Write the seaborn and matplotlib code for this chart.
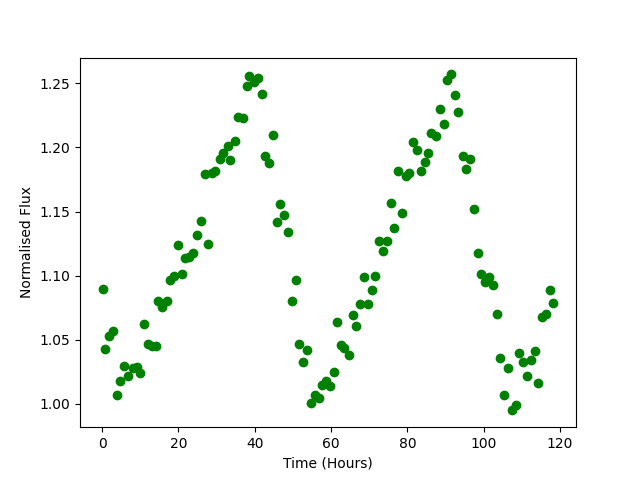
import matplotlib
matplotlib.use("Agg")
import matplotlib.pyplot as plt
import seaborn as sns
import pandas as pd

# time (hours) and normalised flux
time_hours = [
    0.1, 0.8, 1.8, 2.9, 4.0, 4.8, 5.8, 6.9, 8.1, 9.1, 9.9, 10.9, 11.9, 13.0, 14.1,
    14.7, 15.8, 16.9, 17.9, 18.9, 19.8, 20.8, 21.8, 22.8, 23.8, 24.8, 25.8, 26.9,
    27.8, 28.7, 29.7, 30.8, 31.8, 32.9, 33.6, 34.7, 35.7, 36.8, 37.9, 38.6, 39.9,
    40.8, 41.8, 42.6, 43.7, 44.7, 45.8, 46.7, 47.7, 48.7, 49.7, 50.7, 51.7, 52.6,
    53.7, 54.7, 55.7, 56.8, 57.6, 58.7, 59.8, 60.7, 61.5, 62.5, 63.5, 64.7, 65.7,
    66.5, 67.5, 68.6, 69.8, 70.7, 71.6, 72.5, 73.6, 74.7, 75.7, 76.6, 77.6, 78.6,
    79.6, 80.5, 81.5, 82.6, 83.6, 84.6, 85.4, 86.3, 87.4, 88.6, 89.6, 90.4, 91.5,
    92.4, 93.3, 94.6, 95.3, 96.5, 97.4, 98.6, 99.3, 100.4, 101.4, 102.5, 103.5,
    104.3, 105.4, 106.4, 107.4, 108.5, 109.3, 110.4, 111.4, 112.5, 113.5, 114.3,
    115.3, 116.4, 117.4, 118.3,
]
flux = [
    1.090, 1.043, 1.053, 1.057, 1.007, 1.018, 1.030, 1.022, 1.028, 1.029, 1.024,
    1.062, 1.047, 1.045, 1.045, 1.080, 1.076, 1.080, 1.097, 1.100, 1.124, 1.101,
    1.114, 1.115, 1.118, 1.132, 1.143, 1.179, 1.125, 1.180, 1.182, 1.191, 1.196,
    1.201, 1.190, 1.205, 1.224, 1.223, 1.248, 1.256, 1.251, 1.254, 1.242, 1.193,
    1.188, 1.210, 1.142, 1.156, 1.147, 1.134, 1.080, 1.097, 1.047, 1.033, 1.042,
    1.001, 1.007, 1.005, 1.015, 1.018, 1.014, 1.025, 1.064, 1.046, 1.044, 1.038,
    1.069, 1.061, 1.078, 1.099, 1.078, 1.089, 1.100, 1.127, 1.119, 1.127, 1.157,
    1.137, 1.182, 1.149, 1.178, 1.180, 1.204, 1.198, 1.182, 1.189, 1.196, 1.211,
    1.209, 1.230, 1.218, 1.253, 1.257, 1.241, 1.228, 1.193, 1.183, 1.191, 1.152,
    1.118, 1.101, 1.095, 1.099, 1.093, 1.070, 1.036, 1.007, 1.028, 0.995, 0.999,
    1.040, 1.033, 1.022, 1.034, 1.041, 1.016, 1.068, 1.070, 1.089, 1.079,
]

df = pd.DataFrame({"time": time_hours, "flux": flux})

fig, ax = plt.subplots(figsize=(6.4, 4.8), dpi=100)
sns.scatterplot(data=df, x="time", y="flux", color="green", edgecolor="green",
                s=36, linewidth=1, ax=ax)
ax.set_xlabel("Time (Hours)")
ax.set_ylabel("Normalised Flux")

plt.savefig("out.png", dpi=100)
